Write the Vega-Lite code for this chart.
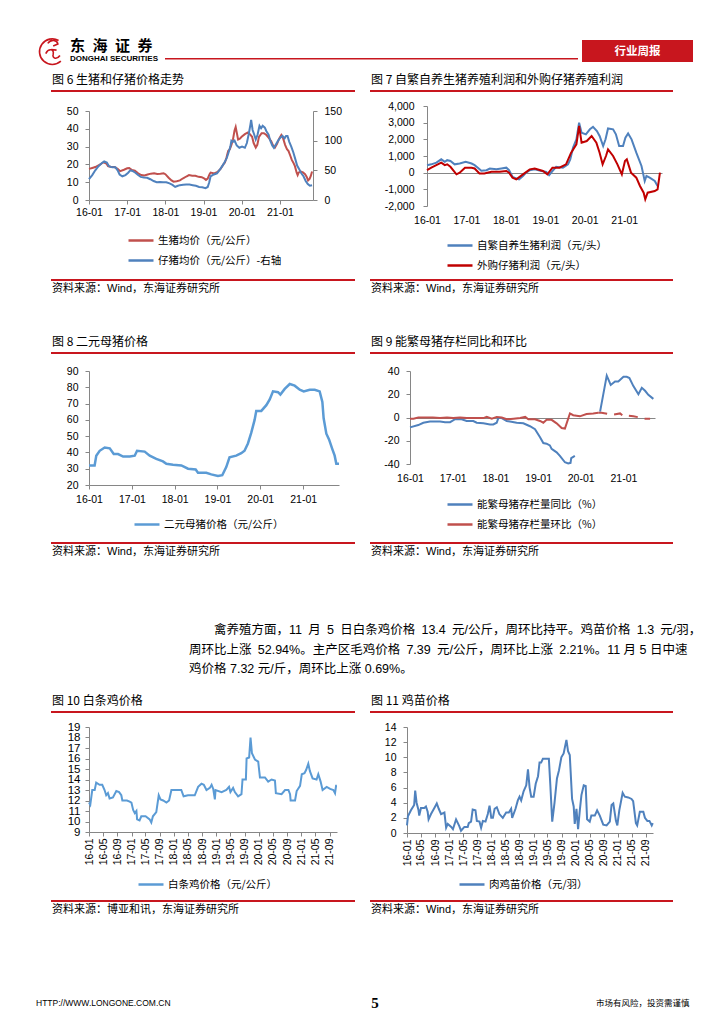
{
"$schema": "https://vega.github.io/schema/vega-lite/v6.json",
"background": "white",
"padding": 0,
"spacing": 0,
"bounds": "full",
"resolve": {"scale": {"color": "independent"}, "legend": {"color": "independent"}},
"datasets": {
"c6a": [{"d":"2016-01-01","v":17.5},{"d":"2016-02-01","v":18},{"d":"2016-03-01","v":18.5},{"d":"2016-04-01","v":19.5},{"d":"2016-05-01","v":20.5},{"d":"2016-05-20","v":21.2},{"d":"2016-06-15","v":20.5},{"d":"2016-07-01","v":19},{"d":"2016-08-01","v":18.5},{"d":"2016-09-01","v":18.5},{"d":"2016-10-01","v":17.5},{"d":"2016-10-25","v":16.2},{"d":"2016-12-01","v":17},{"d":"2017-01-01","v":17.8},{"d":"2017-01-20","v":18},{"d":"2017-02-15","v":16.8},{"d":"2017-03-15","v":16.5},{"d":"2017-04-15","v":15},{"d":"2017-05-15","v":14},{"d":"2017-06-15","v":13.8},{"d":"2017-07-15","v":14.3},{"d":"2017-08-15","v":14.8},{"d":"2017-09-15","v":15},{"d":"2017-10-15","v":14.6},{"d":"2017-11-15","v":14.7},{"d":"2017-12-15","v":15},{"d":"2018-01-01","v":14.5},{"d":"2018-02-01","v":12.5},{"d":"2018-03-01","v":11},{"d":"2018-03-20","v":10.3},{"d":"2018-04-20","v":10.5},{"d":"2018-05-20","v":11},{"d":"2018-06-20","v":12.2},{"d":"2018-07-20","v":13.2},{"d":"2018-08-15","v":14},{"d":"2018-09-15","v":13.6},{"d":"2018-10-15","v":13.6},{"d":"2018-11-15","v":13},{"d":"2018-12-15","v":12.8},{"d":"2019-01-10","v":12},{"d":"2019-01-25","v":11.3},{"d":"2019-02-10","v":12},{"d":"2019-02-28","v":14.5},{"d":"2019-03-10","v":15.4},{"d":"2019-04-15","v":14.9},{"d":"2019-05-15","v":15.8},{"d":"2019-06-15","v":17.6},{"d":"2019-07-10","v":20},{"d":"2019-07-25","v":21},{"d":"2019-08-10","v":24},{"d":"2019-08-25","v":27.5},{"d":"2019-09-10","v":28.5},{"d":"2019-09-25","v":31},{"d":"2019-10-10","v":34},{"d":"2019-10-25","v":39},{"d":"2019-11-05","v":41},{"d":"2019-11-15","v":38},{"d":"2019-11-28","v":34},{"d":"2019-12-15","v":34.5},{"d":"2020-01-01","v":35.5},{"d":"2020-02-01","v":37},{"d":"2020-03-01","v":38},{"d":"2020-03-20","v":37},{"d":"2020-04-10","v":35.5},{"d":"2020-04-25","v":32},{"d":"2020-05-15","v":29.5},{"d":"2020-05-30","v":31},{"d":"2020-06-15","v":35.5},{"d":"2020-07-10","v":37.5},{"d":"2020-08-01","v":37.5},{"d":"2020-08-25","v":36.5},{"d":"2020-09-15","v":35},{"d":"2020-10-10","v":33},{"d":"2020-10-25","v":31},{"d":"2020-11-15","v":29.5},{"d":"2020-12-05","v":31.5},{"d":"2020-12-25","v":34.5},{"d":"2021-01-15","v":36.5},{"d":"2021-01-30","v":35},{"d":"2021-02-20","v":31},{"d":"2021-03-10","v":28.5},{"d":"2021-03-25","v":27.5},{"d":"2021-04-10","v":25},{"d":"2021-04-25","v":22.5},{"d":"2021-05-10","v":21},{"d":"2021-05-25","v":19},{"d":"2021-06-10","v":15.5},{"d":"2021-06-20","v":14},{"d":"2021-07-01","v":15.5},{"d":"2021-07-20","v":16},{"d":"2021-08-10","v":15.5},{"d":"2021-08-30","v":14.5},{"d":"2021-09-15","v":13},{"d":"2021-09-28","v":11},{"d":"2021-10-12","v":11.8},{"d":"2021-10-24","v":13.5},{"d":"2021-11-05","v":16}],
"c6b": [{"d":"2016-01-01","v":35},{"d":"2016-02-01","v":42},{"d":"2016-03-01","v":50},{"d":"2016-04-01","v":57},{"d":"2016-05-01","v":62},{"d":"2016-05-25","v":65},{"d":"2016-06-20","v":63},{"d":"2016-07-10","v":57},{"d":"2016-08-10","v":55},{"d":"2016-09-10","v":55},{"d":"2016-10-01","v":50},{"d":"2016-10-20","v":43},{"d":"2016-11-15","v":40},{"d":"2016-12-15","v":42},{"d":"2017-01-10","v":46},{"d":"2017-01-30","v":50},{"d":"2017-02-20","v":49},{"d":"2017-03-20","v":46},{"d":"2017-04-15","v":42},{"d":"2017-05-10","v":39},{"d":"2017-06-10","v":38},{"d":"2017-07-10","v":37.5},{"d":"2017-08-10","v":35},{"d":"2017-09-10","v":32},{"d":"2017-10-10","v":30},{"d":"2017-11-10","v":30.5},{"d":"2017-12-10","v":30},{"d":"2018-01-10","v":30},{"d":"2018-02-10","v":28},{"d":"2018-03-10","v":25.5},{"d":"2018-04-05","v":22},{"d":"2018-04-25","v":23.5},{"d":"2018-05-20","v":25},{"d":"2018-06-20","v":25.5},{"d":"2018-07-20","v":26},{"d":"2018-08-20","v":26},{"d":"2018-09-20","v":25},{"d":"2018-10-20","v":24},{"d":"2018-11-20","v":22},{"d":"2018-12-20","v":21.5},{"d":"2019-01-20","v":20},{"d":"2019-02-10","v":22},{"d":"2019-02-25","v":30},{"d":"2019-03-10","v":40},{"d":"2019-04-10","v":43},{"d":"2019-05-10","v":45},{"d":"2019-06-10","v":52},{"d":"2019-07-10","v":60},{"d":"2019-08-10","v":70},{"d":"2019-08-25","v":78},{"d":"2019-09-15","v":90},{"d":"2019-09-25","v":100},{"d":"2019-10-10","v":98},{"d":"2019-10-25","v":100},{"d":"2019-11-15","v":92},{"d":"2019-12-10","v":88},{"d":"2020-01-05","v":90},{"d":"2020-02-01","v":88},{"d":"2020-02-20","v":96},{"d":"2020-03-10","v":112},{"d":"2020-03-25","v":127},{"d":"2020-04-01","v":135},{"d":"2020-04-15","v":118},{"d":"2020-05-01","v":110},{"d":"2020-05-15","v":102},{"d":"2020-06-01","v":110},{"d":"2020-06-20","v":125},{"d":"2020-07-05","v":121},{"d":"2020-07-20","v":125},{"d":"2020-08-10","v":122},{"d":"2020-08-25","v":116},{"d":"2020-09-15","v":110},{"d":"2020-10-01","v":100},{"d":"2020-10-20","v":92},{"d":"2020-11-05","v":88},{"d":"2020-11-25","v":94},{"d":"2020-12-15","v":100},{"d":"2021-01-05","v":105},{"d":"2021-01-25","v":108},{"d":"2021-02-15","v":104},{"d":"2021-03-01","v":108},{"d":"2021-03-15","v":108},{"d":"2021-04-01","v":98},{"d":"2021-04-20","v":90},{"d":"2021-05-10","v":80},{"d":"2021-05-30","v":68},{"d":"2021-06-15","v":58},{"d":"2021-07-05","v":52},{"d":"2021-07-25","v":45},{"d":"2021-08-15","v":40},{"d":"2021-09-05","v":32},{"d":"2021-09-25","v":27},{"d":"2021-10-15","v":24},{"d":"2021-11-05","v":25}],
"c7a": [{"d":"2016-01-01","v":450},{"d":"2016-02-10","v":500},{"d":"2016-03-28","v":600},{"d":"2016-05-12","v":800},{"d":"2016-06-14","v":650},{"d":"2016-07-06","v":750},{"d":"2016-08-05","v":700},{"d":"2016-09-13","v":500},{"d":"2016-10-30","v":550},{"d":"2016-12-24","v":650},{"d":"2017-02-17","v":550},{"d":"2017-03-17","v":450},{"d":"2017-04-16","v":300},{"d":"2017-05-18","v":120},{"d":"2017-07-05","v":150},{"d":"2017-08-05","v":250},{"d":"2017-10-05","v":200},{"d":"2017-11-20","v":250},{"d":"2018-01-05","v":300},{"d":"2018-01-30","v":150},{"d":"2018-03-03","v":-250},{"d":"2018-04-07","v":-350},{"d":"2018-05-03","v":-400},{"d":"2018-06-08","v":-200},{"d":"2018-07-08","v":0},{"d":"2018-08-10","v":150},{"d":"2018-09-25","v":200},{"d":"2018-11-25","v":100},{"d":"2019-01-10","v":50},{"d":"2019-02-05","v":-150},{"d":"2019-03-08","v":100},{"d":"2019-04-12","v":350},{"d":"2019-06-13","v":300},{"d":"2019-07-30","v":500},{"d":"2019-08-20","v":800},{"d":"2019-09-15","v":1500},{"d":"2019-10-16","v":2000},{"d":"2019-11-10","v":3000},{"d":"2019-12-03","v":2400},{"d":"2020-01-12","v":2300},{"d":"2020-02-18","v":2600},{"d":"2020-03-18","v":2750},{"d":"2020-04-23","v":2500},{"d":"2020-05-18","v":2200},{"d":"2020-06-20","v":1600},{"d":"2020-07-12","v":2000},{"d":"2020-08-04","v":2650},{"d":"2020-09-20","v":2600},{"d":"2020-10-16","v":2300},{"d":"2020-11-15","v":1600},{"d":"2020-12-21","v":1600},{"d":"2021-01-12","v":2100},{"d":"2021-02-06","v":2350},{"d":"2021-03-10","v":2000},{"d":"2021-04-23","v":1200},{"d":"2021-06-10","v":400},{"d":"2021-07-10","v":-500},{"d":"2021-07-26","v":-200},{"d":"2021-08-25","v":-300},{"d":"2021-10-11","v":-500},{"d":"2021-11-06","v":-800}],
"c7b": [{"d":"2016-01-01","v":150},{"d":"2016-02-10","v":300},{"d":"2016-05-12","v":600},{"d":"2016-06-14","v":450},{"d":"2016-07-06","v":500},{"d":"2016-08-05","v":350},{"d":"2016-09-30","v":-100},{"d":"2016-10-30","v":0},{"d":"2016-12-18","v":300},{"d":"2017-02-17","v":300},{"d":"2017-03-17","v":250},{"d":"2017-05-01","v":-50},{"d":"2017-06-15","v":-50},{"d":"2017-08-20","v":50},{"d":"2017-11-05","v":50},{"d":"2018-01-05","v":100},{"d":"2018-01-30","v":0},{"d":"2018-03-03","v":-300},{"d":"2018-04-07","v":-400},{"d":"2018-06-08","v":-100},{"d":"2018-08-10","v":200},{"d":"2018-09-25","v":250},{"d":"2018-12-10","v":100},{"d":"2019-01-20","v":-100},{"d":"2019-03-08","v":300},{"d":"2019-05-12","v":300},{"d":"2019-07-12","v":500},{"d":"2019-08-28","v":1200},{"d":"2019-10-16","v":1700},{"d":"2019-11-10","v":2800},{"d":"2019-12-03","v":1800},{"d":"2020-01-20","v":1900},{"d":"2020-03-05","v":2200},{"d":"2020-04-18","v":1800},{"d":"2020-05-18","v":1200},{"d":"2020-06-15","v":500},{"d":"2020-07-16","v":1000},{"d":"2020-08-04","v":1400},{"d":"2020-09-20","v":1000},{"d":"2020-10-30","v":500},{"d":"2020-12-10","v":-100},{"d":"2021-01-08","v":700},{"d":"2021-01-25","v":800},{"d":"2021-03-05","v":0},{"d":"2021-04-23","v":-300},{"d":"2021-05-27","v":-800},{"d":"2021-06-30","v":-1200},{"d":"2021-07-15","v":-1600},{"d":"2021-08-06","v":-1200},{"d":"2021-10-11","v":-1100},{"d":"2021-11-06","v":-1000},{"d":"2021-11-28","v":0}],
"c8": [{"d":"2016-01-01","v":32},{"d":"2016-02-18","v":32},{"d":"2016-03-03","v":38},{"d":"2016-04-01","v":41},{"d":"2016-05-14","v":43},{"d":"2016-06-26","v":42.5},{"d":"2016-07-30","v":39},{"d":"2016-09-05","v":39},{"d":"2016-10-18","v":37.5},{"d":"2016-12-14","v":37.5},{"d":"2017-01-25","v":38},{"d":"2017-02-14","v":41},{"d":"2017-04-20","v":40.5},{"d":"2017-06-02","v":38},{"d":"2017-07-28","v":36},{"d":"2017-09-23","v":34.5},{"d":"2017-10-22","v":33},{"d":"2017-12-18","v":32.5},{"d":"2018-02-27","v":32},{"d":"2018-04-25","v":30},{"d":"2018-06-29","v":29.5},{"d":"2018-07-19","v":27.5},{"d":"2018-09-28","v":27.5},{"d":"2018-11-09","v":26.5},{"d":"2019-01-05","v":25.5},{"d":"2019-02-11","v":26},{"d":"2019-03-17","v":31},{"d":"2019-04-14","v":37},{"d":"2019-06-10","v":38},{"d":"2019-07-23","v":39.5},{"d":"2019-08-20","v":41},{"d":"2019-09-18","v":45.5},{"d":"2019-10-16","v":52},{"d":"2019-11-14","v":60},{"d":"2019-11-28","v":65.5},{"d":"2020-01-10","v":65.5},{"d":"2020-02-22","v":69},{"d":"2020-03-22","v":72.5},{"d":"2020-04-19","v":77.5},{"d":"2020-06-01","v":77},{"d":"2020-06-21","v":75.5},{"d":"2020-07-28","v":79},{"d":"2020-09-09","v":82},{"d":"2020-10-21","v":81},{"d":"2020-12-03","v":78.5},{"d":"2021-01-06","v":77.5},{"d":"2021-02-26","v":78.5},{"d":"2021-04-10","v":78.5},{"d":"2021-05-22","v":77.5},{"d":"2021-06-14","v":71},{"d":"2021-06-25","v":61},{"d":"2021-07-18","v":51.5},{"d":"2021-08-10","v":48},{"d":"2021-09-07","v":42},{"d":"2021-09-27","v":38},{"d":"2021-10-11","v":33},{"d":"2021-11-03","v":33}],
"c9a": [{"d":"2016-01-01","v":-8.5,"g":1},{"d":"2016-03-12","v":-6.5,"g":1},{"d":"2016-04-24","v":-4.5,"g":1},{"d":"2016-06-20","v":-3.5,"g":1},{"d":"2016-09-14","v":-3.5,"g":1},{"d":"2016-10-27","v":-4,"g":1},{"d":"2016-12-09","v":-4,"g":1},{"d":"2017-01-21","v":-1.5,"g":1},{"d":"2017-03-18","v":-1.5,"g":1},{"d":"2017-04-30","v":-3,"g":1},{"d":"2017-06-26","v":-3,"g":1},{"d":"2017-07-25","v":-4.5,"g":1},{"d":"2017-09-20","v":-5,"g":1},{"d":"2017-11-16","v":-6,"g":1},{"d":"2017-12-14","v":-6,"g":1},{"d":"2018-01-12","v":-4.5,"g":1},{"d":"2018-01-26","v":-0.5,"g":1},{"d":"2018-02-24","v":-0.5,"g":1},{"d":"2018-04-08","v":-3,"g":1},{"d":"2018-05-06","v":-3.5,"g":1},{"d":"2018-07-02","v":-4.5,"g":1},{"d":"2018-08-28","v":-5,"g":1},{"d":"2018-10-24","v":-7.5,"g":1},{"d":"2018-12-06","v":-10,"g":1},{"d":"2019-01-18","v":-17,"g":1},{"d":"2019-02-15","v":-22,"g":1},{"d":"2019-03-15","v":-22.5,"g":1},{"d":"2019-04-12","v":-24,"g":1},{"d":"2019-04-27","v":-27,"g":1},{"d":"2019-06-09","v":-30,"g":1},{"d":"2019-07-07","v":-33,"g":1},{"d":"2019-08-19","v":-38.5,"g":1},{"d":"2019-09-16","v":-39.5,"g":1},{"d":"2019-10-06","v":-39,"g":1},{"d":"2019-10-12","v":-35,"g":1},{"d":"2019-11-12","v":-33,"g":1},{"d":"2020-06-15","v":5,"g":2},{"d":"2020-08-11","v":36,"g":2},{"d":"2020-09-14","v":28,"g":2},{"d":"2020-10-21","v":31,"g":2},{"d":"2020-11-18","v":31,"g":2},{"d":"2021-01-01","v":35,"g":2},{"d":"2021-01-29","v":35,"g":2},{"d":"2021-02-21","v":34,"g":2},{"d":"2021-03-27","v":27,"g":2},{"d":"2021-05-09","v":20,"g":2},{"d":"2021-06-07","v":25.5,"g":2},{"d":"2021-07-05","v":23,"g":2},{"d":"2021-08-02","v":19.5,"g":2},{"d":"2021-09-14","v":16,"g":2}],
"c9b": [{"d":"2016-01-01","v":-1,"g":1},{"d":"2016-01-30","v":-1,"g":1},{"d":"2016-03-12","v":0,"g":1},{"d":"2016-07-15","v":0,"g":1},{"d":"2016-09-14","v":-0.5,"g":1},{"d":"2016-11-13","v":0,"g":1},{"d":"2017-01-05","v":-0.5,"g":1},{"d":"2017-03-04","v":0,"g":1},{"d":"2017-04-30","v":-0.5,"g":1},{"d":"2017-07-25","v":-0.5,"g":1},{"d":"2017-09-20","v":-0.5,"g":1},{"d":"2017-10-19","v":0.5,"g":1},{"d":"2017-12-01","v":-1,"g":1},{"d":"2018-01-12","v":0.5,"g":1},{"d":"2018-02-24","v":0,"g":1},{"d":"2018-04-08","v":-1.5,"g":1},{"d":"2018-06-05","v":-1,"g":1},{"d":"2018-08-01","v":-0.5,"g":1},{"d":"2018-09-13","v":0.5,"g":1},{"d":"2018-10-10","v":-1.5,"g":1},{"d":"2018-12-06","v":-1.5,"g":1},{"d":"2019-01-18","v":-3,"g":1},{"d":"2019-02-15","v":-4.5,"g":1},{"d":"2019-03-15","v":-2,"g":1},{"d":"2019-04-27","v":-2,"g":1},{"d":"2019-06-09","v":-5,"g":1},{"d":"2019-07-22","v":-9,"g":1},{"d":"2019-08-19","v":-9.5,"g":1},{"d":"2019-10-01","v":3.5,"g":1},{"d":"2019-10-29","v":2,"g":1},{"d":"2019-12-25","v":1,"g":1},{"d":"2020-02-20","v":3,"g":1},{"d":"2020-04-17","v":3.5,"g":1},{"d":"2020-05-30","v":4,"g":1},{"d":"2020-05-30","v":4,"g":2},{"d":"2020-06-27","v":4,"g":2},{"d":"2020-08-23","v":3,"g":2},{"d":"2020-10-06","v":2.5,"g":2},{"d":"2020-12-03","v":3.5,"g":2},{"d":"2021-01-01","v":1,"g":2},{"d":"2021-02-12","v":1.5,"g":2},{"d":"2021-03-27","v":1,"g":2},{"d":"2021-05-22","v":0,"g":2},{"d":"2021-07-05","v":-1,"g":2},{"d":"2021-08-17","v":-1,"g":2}],
"c10": [{"d":"2016-01-01","v":11.8},{"d":"2016-01-12","v":11.6},{"d":"2016-01-29","v":13},{"d":"2016-02-19","v":13},{"d":"2016-03-03","v":13.7},{"d":"2016-04-01","v":13.5},{"d":"2016-04-24","v":13.5},{"d":"2016-05-14","v":13},{"d":"2016-05-28","v":12.5},{"d":"2016-06-12","v":12.7},{"d":"2016-06-26","v":12.2},{"d":"2016-07-25","v":12.3},{"d":"2016-08-23","v":12.9},{"d":"2016-09-16","v":12.8},{"d":"2016-10-05","v":12.5},{"d":"2016-10-14","v":12},{"d":"2016-11-23","v":12},{"d":"2016-12-16","v":11.9},{"d":"2016-12-31","v":11.8},{"d":"2017-01-15","v":11.1},{"d":"2017-01-29","v":10.8},{"d":"2017-02-12","v":11},{"d":"2017-02-18","v":10.2},{"d":"2017-03-11","v":10.1},{"d":"2017-03-26","v":10.5},{"d":"2017-05-02","v":10.5},{"d":"2017-06-06","v":10.2},{"d":"2017-06-20","v":9.9},{"d":"2017-07-04","v":10.5},{"d":"2017-08-02","v":10.9},{"d":"2017-08-23","v":12.5},{"d":"2017-09-07","v":12.1},{"d":"2017-09-30","v":12},{"d":"2017-10-28","v":11.8},{"d":"2017-11-20","v":12},{"d":"2017-12-10","v":13},{"d":"2018-03-05","v":13},{"d":"2018-03-25","v":12.4},{"d":"2018-05-02","v":12.5},{"d":"2018-06-29","v":12.5},{"d":"2018-07-28","v":13.3},{"d":"2018-08-26","v":13.6},{"d":"2018-09-15","v":13.5},{"d":"2018-10-08","v":13},{"d":"2018-11-06","v":13.2},{"d":"2018-11-21","v":13.5},{"d":"2018-12-05","v":13.1},{"d":"2018-12-19","v":12.1},{"d":"2018-12-25","v":13},{"d":"2019-02-15","v":12.8},{"d":"2019-03-28","v":13},{"d":"2019-04-20","v":13.3},{"d":"2019-05-02","v":12.8},{"d":"2019-05-25","v":13.2},{"d":"2019-06-09","v":12.8},{"d":"2019-07-07","v":12.4},{"d":"2019-08-05","v":12.6},{"d":"2019-08-14","v":14},{"d":"2019-09-12","v":14},{"d":"2019-09-18","v":16},{"d":"2019-10-10","v":16.1},{"d":"2019-10-22","v":18},{"d":"2019-11-03","v":16.5},{"d":"2019-11-29","v":15.9},{"d":"2019-12-27","v":15.7},{"d":"2020-01-11","v":14.2},{"d":"2020-02-23","v":14.2},{"d":"2020-03-22","v":13.8},{"d":"2020-04-20","v":14},{"d":"2020-05-19","v":13.9},{"d":"2020-05-27","v":12.7},{"d":"2020-07-15","v":12.6},{"d":"2020-08-14","v":13},{"d":"2020-09-12","v":13},{"d":"2020-09-26","v":12.6},{"d":"2020-10-01","v":12},{"d":"2020-11-08","v":12},{"d":"2020-11-22","v":12.9},{"d":"2020-12-21","v":13.4},{"d":"2021-01-05","v":14.5},{"d":"2021-01-28","v":14.6},{"d":"2021-02-11","v":14.9},{"d":"2021-03-02","v":15.5},{"d":"2021-03-16","v":14.8},{"d":"2021-04-08","v":14.1},{"d":"2021-05-12","v":14},{"d":"2021-05-27","v":14.5},{"d":"2021-06-16","v":13.8},{"d":"2021-07-03","v":13},{"d":"2021-08-07","v":13.3},{"d":"2021-09-06","v":13.1},{"d":"2021-10-04","v":13},{"d":"2021-10-18","v":12.7},{"d":"2021-10-27","v":13.4},{"d":"2021-11-03","v":13.4}],
"c11": [{"d":"2016-01-01","v":1},{"d":"2016-01-09","v":2.2},{"d":"2016-02-04","v":3},{"d":"2016-03-03","v":3.7},{"d":"2016-03-12","v":5.6},{"d":"2016-03-24","v":4},{"d":"2016-04-10","v":3},{"d":"2016-04-16","v":2.3},{"d":"2016-05-01","v":3.3},{"d":"2016-05-30","v":3.3},{"d":"2016-06-13","v":3.5},{"d":"2016-06-28","v":2.8},{"d":"2016-07-06","v":1.8},{"d":"2016-07-27","v":2.5},{"d":"2016-08-25","v":3.3},{"d":"2016-09-15","v":3.9},{"d":"2016-10-02","v":3.2},{"d":"2016-10-22","v":2.5},{"d":"2016-11-20","v":2.7},{"d":"2016-12-05","v":0.7},{"d":"2016-12-19","v":1.2},{"d":"2017-01-18","v":0.8},{"d":"2017-02-02","v":0.5},{"d":"2017-03-01","v":1.8},{"d":"2017-03-29","v":0.9},{"d":"2017-04-13","v":0.3},{"d":"2017-05-12","v":0.8},{"d":"2017-06-10","v":0.8},{"d":"2017-06-19","v":1.3},{"d":"2017-07-09","v":1.5},{"d":"2017-07-23","v":3.1},{"d":"2017-08-16","v":3},{"d":"2017-08-28","v":1.6},{"d":"2017-09-20","v":1.5},{"d":"2017-10-04","v":0.7},{"d":"2017-10-19","v":1.6},{"d":"2017-11-11","v":1.5},{"d":"2017-12-01","v":2.5},{"d":"2017-12-16","v":3.6},{"d":"2017-12-31","v":2},{"d":"2018-01-14","v":2},{"d":"2018-01-29","v":3.2},{"d":"2018-02-17","v":3.4},{"d":"2018-03-11","v":2.5},{"d":"2018-04-10","v":2},{"d":"2018-05-09","v":2.7},{"d":"2018-06-01","v":2.7},{"d":"2018-06-21","v":3.2},{"d":"2018-06-30","v":2},{"d":"2018-07-29","v":3.2},{"d":"2018-08-18","v":4.3},{"d":"2018-09-02","v":4.8},{"d":"2018-09-16","v":4.3},{"d":"2018-10-07","v":5.5},{"d":"2018-10-30","v":6.3},{"d":"2018-11-14","v":8.4},{"d":"2018-11-28","v":6},{"d":"2018-12-12","v":4.8},{"d":"2019-01-02","v":4.8},{"d":"2019-01-20","v":6.5},{"d":"2019-02-09","v":7.5},{"d":"2019-02-22","v":9.3},{"d":"2019-03-08","v":9.3},{"d":"2019-03-23","v":9.8},{"d":"2019-04-21","v":9.8},{"d":"2019-05-14","v":9.8},{"d":"2019-05-26","v":6.5},{"d":"2019-06-12","v":1.5},{"d":"2019-07-02","v":4},{"d":"2019-07-23","v":7.2},{"d":"2019-08-10","v":8.3},{"d":"2019-08-30","v":10},{"d":"2019-09-19","v":10.5},{"d":"2019-10-13","v":12.3},{"d":"2019-10-27","v":10.8},{"d":"2019-11-11","v":10.3},{"d":"2019-12-01","v":4.5},{"d":"2019-12-15","v":3.5},{"d":"2019-12-24","v":1.2},{"d":"2020-01-08","v":3.2},{"d":"2020-01-22","v":0.5},{"d":"2020-02-06","v":3},{"d":"2020-02-20","v":5},{"d":"2020-03-11","v":6.3},{"d":"2020-03-28","v":6.2},{"d":"2020-04-09","v":1.8},{"d":"2020-05-02","v":1.5},{"d":"2020-05-16","v":2.3},{"d":"2020-06-15","v":2.3},{"d":"2020-07-05","v":3},{"d":"2020-07-28","v":2.3},{"d":"2020-08-27","v":1.1},{"d":"2020-09-25","v":1},{"d":"2020-10-23","v":1.5},{"d":"2020-11-07","v":3.7},{"d":"2020-11-22","v":3.9},{"d":"2020-12-15","v":1.6},{"d":"2020-12-27","v":1},{"d":"2021-01-13","v":3},{"d":"2021-02-11","v":5.3},{"d":"2021-03-02","v":4.8},{"d":"2021-03-31","v":4.7},{"d":"2021-04-29","v":4.5},{"d":"2021-05-13","v":4.2},{"d":"2021-06-06","v":1.3},{"d":"2021-06-17","v":1},{"d":"2021-07-10","v":2.8},{"d":"2021-08-09","v":2.8},{"d":"2021-08-23","v":2},{"d":"2021-09-13","v":1.6},{"d":"2021-10-01","v":1.6},{"d":"2021-10-21","v":1},{"d":"2021-10-30","v":1.3}]
},
"vconcat": [
{"columns": 6, "spacing": 0, "bounds": "flush", "align": "each", "resolve": {"scale": {"color": "independent"}, "legend": {"color": "independent"}},
 "concat": [
  {"width":42,"height":40,"data":{"values":[]},"mark":"point"},
  {"width":21,"height":1,"data":{"values":[]},"mark":"point"},
  {"width":102,"height":1,"data":{"values":[]},"mark":"point"},
  {"width":413,"height":1,"data":{"values":[]},"mark":"point"},
  {"width":4,"height":1,"data":{"values":[]},"mark":"point"},
  {"width":111,"height":1,"data":{"values":[]},"mark":"point"},

  {"width":1,"height":5,"data":{"values":[]},"mark":"point"},
  {"width":1,"height":1,"data":{"values":[]},"mark":"point"},
  {"width":1,"height":1,"data":{"values":[]},"mark":"point"},
  {"width":1,"height":1,"data":{"values":[]},"mark":"point"},
  {"width":1,"height":1,"data":{"values":[]},"mark":"point"},
  {"width":111,"height":5,"data":{"values":[]},"mark":"point","view":{"fill":"#c8161e"}},

  {"width":1,"height":13,"data":{"values":[]},"mark":"point"},
  {"width":21,"height":13,"data":{"values":[{}]},"mark":{"type":"point","shape":"M0.45,-0.82 A0.95,0.95 0 1 0 0.62,0.72 M-0.35,-0.6 C-0.1,-0.95 0.35,-0.85 0.4,-0.55 L0.05,-0.4 M-0.5,0.15 C-0.3,-0.25 0.15,-0.2 0.05,0.2 C-0.05,0.55 0.35,0.6 0.55,0.3 M-0.1,-0.15 L0.3,-0.1","size":729,"filled":false,"stroke":"#c8161e","strokeWidth":1.6,"opacity":1}},
  {"width":1,"height":1,"data":{"values":[]},"mark":"point"},
  {"width":1,"height":1,"data":{"values":[]},"mark":"point"},
  {"width":1,"height":1,"data":{"values":[]},"mark":"point"},
  {"width":111,"height":13,"data":{"values":[{}]},"mark":{"type":"text","text":"行业周报","color":"#ffffff","fontSize":11.5,"fontWeight":"bold","font":"Noto Sans CJK SC"},"view":{"fill":"#c8161e"}},

  {"width":1,"height":2,"data":{"values":[]},"mark":"point"},
  {"width":1,"height":1,"data":{"values":[]},"mark":"point"},
  {"width":1,"height":1,"data":{"values":[]},"mark":"point"},
  {"width":413,"height":1.5,"data":{"values":[]},"mark":"point","view":{"fill":"#c8161e"},"title":{"text":"东\u2002海\u2002证\u2002券","subtitle":"DONGHAI SECURITIES","orient":"top","offset":-4.5,"dx":-95,"fontSize":15,"fontWeight":"bold","subtitleFont":"Liberation Sans","subtitleFontSize":8,"subtitleFontWeight":"bold","subtitleColor":"#000000","subtitlePadding":1}},
  {"width":1,"height":1,"data":{"values":[]},"mark":"point"},
  {"width":111,"height":2,"data":{"values":[]},"mark":"point","view":{"fill":"#c8161e"}},

  {"width":1,"height":2,"data":{"values":[]},"mark":"point"},
  {"width":1,"height":1,"data":{"values":[]},"mark":"point"},
  {"width":1,"height":1,"data":{"values":[]},"mark":"point"},
  {"width":1,"height":1,"data":{"values":[]},"mark":"point"},
  {"width":1,"height":1,"data":{"values":[]},"mark":"point"},
  {"width":111,"height":2,"data":{"values":[]},"mark":"point","view":{"fill":"#c8161e"}},

  {"width":1,"height":8,"data":{"values":[]},"mark":"point"},
  {"width":1,"height":1,"data":{"values":[]},"mark":"point"},
  {"width":1,"height":1,"data":{"values":[]},"mark":"point"},
  {"width":1,"height":1,"data":{"values":[]},"mark":"point"},
  {"width":1,"height":1,"data":{"values":[]},"mark":"point"},
  {"width":1,"height":1,"data":{"values":[]},"mark":"point"}
 ]},

{"columns": 6, "spacing": 0, "bounds": "flush", "align": "each", "resolve": {"scale": {"color": "independent"}, "legend": {"color": "independent"}},
 "concat": [
  {"width":51,"height":20,"data":{"values":[]},"mark":"point"},
  {"width":38,"height":1,"data":{"values":[]},"mark":"point"},
  {"width":266,"height":1,"data":{"values":[]},"mark":"point"},
  {"width":15,"height":1,"data":{"values":[]},"mark":"point"},
  {"width":57,"height":1,"data":{"values":[]},"mark":"point"},
  {"width":246,"height":1,"data":{"values":[]},"mark":"point"},

  {"width":1,"height":2,"data":{"values":[]},"mark":"point"},
  {"width":38,"height":2,"data":{"values":[]},"mark":"point","view":{"fill":"#c8161e"},"title":{"text":"图 6 生猪和仔猪价格走势","orient":"top","offset":3,"dx":1}},
  {"width":266,"height":2,"data":{"values":[]},"mark":"point","view":{"fill":"#c8161e"}},
  {"width":1,"height":1,"data":{"values":[]},"mark":"point"},
  {"width":57,"height":2,"data":{"values":[]},"mark":"point","view":{"fill":"#c8161e"},"title":{"text":"图 7 自繁自养生猪养殖利润和外购仔猪养殖利润","orient":"top","offset":3,"dx":1}},
  {"width":246,"height":2,"data":{"values":[]},"mark":"point","view":{"fill":"#c8161e"}},

  {"width":1,"height":14,"data":{"values":[]},"mark":"point"},
  {"width":1,"height":1,"data":{"values":[]},"mark":"point"},
  {"width":1,"height":1,"data":{"values":[]},"mark":"point"},
  {"width":1,"height":1,"data":{"values":[]},"mark":"point"},
  {"width":1,"height":1,"data":{"values":[]},"mark":"point"},
  {"width":1,"height":1,"data":{"values":[]},"mark":"point"},

  {"width":1,"height":100,"data":{"values":[]},"mark":"point"},
  {"width":1,"height":1,"data":{"values":[]},"mark":"point"},
  {"width":224,"height":94,
   "layer":[
    {"data":{"name":"c6a"},"mark":{"type":"line","strokeWidth":2},"encoding":{
     "x":{"field":"d","type":"temporal","scale":{"domain":[{"year":2016,"month":1,"date":1},{"year":2021,"month":11,"date":14}]},"axis":{"title":null,"format":"%y-%m","labelPadding":3,"values":[{"year":2016,"month":1,"date":1},{"year":2017,"month":1,"date":1},{"year":2018,"month":1,"date":1},{"year":2019,"month":1,"date":1},{"year":2020,"month":1,"date":1},{"year":2021,"month":1,"date":1}]}},
     "y":{"field":"v","type":"quantitative","scale":{"domain":[0,50],"range":[94,5]},"axis":{"title":null,"values":[0,10,20,30,40,50]}},
     "color":{"datum":"生猪均价（元/公斤）","scale":{"domain":["生猪均价（元/公斤）","仔猪均价（元/公斤）-右轴"],"range":["#C0504D","#4F81BD"]},"legend":{"title":null,"legendX":38,"legendY":120.5,"direction":"vertical","rowPadding":-6}}}},
    {"data":{"name":"c6b"},"mark":{"type":"line","strokeWidth":2},"encoding":{
     "x":{"field":"d","type":"temporal"},
     "y":{"field":"v","type":"quantitative","scale":{"domain":[0,150],"range":[94,5]},"axis":{"title":null,"orient":"right","values":[0,50,100,150]}},
     "color":{"datum":"仔猪均价（元/公斤）-右轴"}}}
   ],
   "resolve":{"scale":{"y":"independent"}}},
  {"width":1,"height":1,"data":{"values":[]},"mark":"point"},
  {"width":1,"height":1,"data":{"values":[]},"mark":"point"},
  {"width":235,"height":100,
   "layer":[
    {"data":{"name":"c7a"},"mark":{"type":"line","strokeWidth":2},"encoding":{
     "x":{"field":"d","type":"temporal","scale":{"domain":[{"year":2016,"month":1,"date":1},{"year":2021,"month":12,"date":17}]},"axis":{"title":null,"format":"%y-%m","domain":false,"ticks":false,"labelPadding":9,"values":[{"year":2016,"month":1,"date":1},{"year":2017,"month":1,"date":1},{"year":2018,"month":1,"date":1},{"year":2019,"month":1,"date":1},{"year":2020,"month":1,"date":1},{"year":2021,"month":1,"date":1}]}},
     "y":{"field":"v","type":"quantitative","scale":{"domain":[-2000,4000]},"axis":{"title":null,"values":[-2000,-1000,0,1000,2000,3000,4000],"labelExpr":"replace(format(datum.value, ','), '\u2212', '-')","labelPadding":9,"labelOverlap":false,"ticks":true,"grid":true,"gridColor":"#868686","gridOpacity":{"condition":{"test":"datum.value === 0","value":1},"value":0}}},
     "color":{"datum":"自繁自养生猪利润（元/头）","scale":{"domain":["自繁自养生猪利润（元/头）","外购仔猪利润（元/头）"],"range":["#4F81BD","#C00000"]},"legend":{"title":null,"legendX":19,"legendY":125.5,"direction":"vertical","rowPadding":-4}}}},
    {"data":{"name":"c7b"},"mark":{"type":"line","strokeWidth":2},"encoding":{
     "x":{"field":"d","type":"temporal"},
     "y":{"field":"v","type":"quantitative","axis":{"title":null,"values":[-2000,-1000,0,1000,2000,3000,4000],"labelExpr":"replace(format(datum.value, ','), '\u2212', '-')","labelPadding":9,"labelOverlap":false,"ticks":true,"grid":true,"gridColor":"#868686","gridOpacity":{"condition":{"test":"datum.value === 0","value":1},"value":0}}},
     "color":{"datum":"外购仔猪利润（元/头）"}}}
   ]},

  {"width":1,"height":73,"data":{"values":[]},"mark":"point"},
  {"width":1,"height":1,"data":{"values":[]},"mark":"point"},
  {"width":1,"height":1,"data":{"values":[]},"mark":"point"},
  {"width":1,"height":1,"data":{"values":[]},"mark":"point"},
  {"width":1,"height":1,"data":{"values":[]},"mark":"point"},
  {"width":1,"height":1,"data":{"values":[]},"mark":"point"},

  {"width":1,"height":2,"data":{"values":[]},"mark":"point"},
  {"width":38,"height":2,"data":{"values":[]},"mark":"point","view":{"fill":"#c8161e"},"title":{"text":"资料来源：Wind，东海证券研究所","orient":"bottom","offset":2,"dx":1,"fontSize":11,"font":"Liberation Sans, Noto Sans CJK SC"}},
  {"width":266,"height":2,"data":{"values":[]},"mark":"point","view":{"fill":"#c8161e"}},
  {"width":1,"height":1,"data":{"values":[]},"mark":"point"},
  {"width":57,"height":2,"data":{"values":[]},"mark":"point","view":{"fill":"#c8161e"},"title":{"text":"资料来源：Wind，东海证券研究所","orient":"bottom","offset":2,"dx":1,"fontSize":11,"font":"Liberation Sans, Noto Sans CJK SC"}},
  {"width":246,"height":2,"data":{"values":[]},"mark":"point","view":{"fill":"#c8161e"}},

  {"width":1,"height":19,"data":{"values":[]},"mark":"point"},
  {"width":1,"height":1,"data":{"values":[]},"mark":"point"},
  {"width":1,"height":1,"data":{"values":[]},"mark":"point"},
  {"width":1,"height":1,"data":{"values":[]},"mark":"point"},
  {"width":1,"height":1,"data":{"values":[]},"mark":"point"},
  {"width":1,"height":1,"data":{"values":[]},"mark":"point"}
 ]},

{"columns": 6, "spacing": 0, "bounds": "flush", "align": "each", "resolve": {"scale": {"color": "independent"}, "legend": {"color": "independent"}},
 "concat": [
  {"width":51,"height":52,"data":{"values":[]},"mark":"point"},
  {"width":38,"height":1,"data":{"values":[]},"mark":"point"},
  {"width":266,"height":1,"data":{"values":[]},"mark":"point"},
  {"width":15,"height":1,"data":{"values":[]},"mark":"point"},
  {"width":40,"height":1,"data":{"values":[]},"mark":"point"},
  {"width":263,"height":1,"data":{"values":[]},"mark":"point"},

  {"width":1,"height":2,"data":{"values":[]},"mark":"point"},
  {"width":38,"height":2,"data":{"values":[]},"mark":"point","view":{"fill":"#c8161e"},"title":{"text":"图 8 二元母猪价格","orient":"top","offset":3,"dx":1}},
  {"width":266,"height":2,"data":{"values":[]},"mark":"point","view":{"fill":"#c8161e"}},
  {"width":1,"height":1,"data":{"values":[]},"mark":"point"},
  {"width":40,"height":2,"data":{"values":[]},"mark":"point","view":{"fill":"#c8161e"},"title":{"text":"图 9 能繁母猪存栏同比和环比","orient":"top","offset":3,"dx":1}},
  {"width":263,"height":2,"data":{"values":[]},"mark":"point","view":{"fill":"#c8161e"}},

  {"width":1,"height":17,"data":{"values":[]},"mark":"point"},
  {"width":1,"height":1,"data":{"values":[]},"mark":"point"},
  {"width":1,"height":1,"data":{"values":[]},"mark":"point"},
  {"width":1,"height":1,"data":{"values":[]},"mark":"point"},
  {"width":1,"height":1,"data":{"values":[]},"mark":"point"},
  {"width":1,"height":1,"data":{"values":[]},"mark":"point"},

  {"width":1,"height":114,"data":{"values":[]},"mark":"point"},
  {"width":1,"height":1,"data":{"values":[]},"mark":"point"},
  {"width":250,"height":114,"data":{"name":"c8"},"mark":{"type":"line","strokeWidth":2.5},"encoding":{
    "x":{"field":"d","type":"temporal","scale":{"domain":[{"year":2016,"month":1,"date":1},{"year":2021,"month":11,"date":3}]},"axis":{"title":null,"format":"%y-%m","labelPadding":5,"values":[{"year":2016,"month":1,"date":1},{"year":2017,"month":1,"date":1},{"year":2018,"month":1,"date":1},{"year":2019,"month":1,"date":1},{"year":2020,"month":1,"date":1},{"year":2021,"month":1,"date":1}]}},
    "y":{"field":"v","type":"quantitative","scale":{"domain":[20,90]},"axis":{"title":null,"values":[20,30,40,50,60,70,80,90]}},
    "color":{"datum":"二元母猪价格（元/公斤）","scale":{"range":["#5B9BD5"]},"legend":{"title":null,"legendX":44,"legendY":139.5,"direction":"vertical"}}}},
  {"width":1,"height":1,"data":{"values":[]},"mark":"point"},
  {"width":1,"height":1,"data":{"values":[]},"mark":"point"},
  {"width":245,"height":93,
   "layer":[
    {"data":{"name":"c9a"},"mark":{"type":"line","strokeWidth":2},"encoding":{
     "x":{"field":"d","type":"temporal","scale":{"domain":[{"year":2016,"month":1,"date":1},{"year":2021,"month":9,"date":28}]},"axis":{"title":null,"format":"%y-%m","domain":false,"ticks":false,"labelPadding":9,"values":[{"year":2016,"month":1,"date":1},{"year":2017,"month":1,"date":1},{"year":2018,"month":1,"date":1},{"year":2019,"month":1,"date":1},{"year":2020,"month":1,"date":1},{"year":2021,"month":1,"date":1}]}},
     "y":{"field":"v","type":"quantitative","scale":{"domain":[-40,40]},"axis":{"title":null,"values":[-40,-20,0,20,40],"labelExpr":"replace(format(datum.value, ','), '\u2212', '-')","labelOverlap":false,"ticks":true,"grid":true,"gridColor":"#868686","gridOpacity":{"condition":{"test":"datum.value === 0","value":1},"value":0}}},
     "detail":{"field":"g","type":"nominal"},
     "color":{"datum":"能繁母猪存栏量同比（%）","scale":{"domain":["能繁母猪存栏量同比（%）","能繁母猪存栏量环比（%）"],"range":["#4F81BD","#C0504D"]},"legend":{"title":null,"legendX":36,"legendY":119.5,"direction":"vertical","rowPadding":-5}}}},
    {"data":{"name":"c9b"},"transform":[{"filter":"datum.g == 1"}],"mark":{"type":"line","strokeWidth":2},"encoding":{
     "x":{"field":"d","type":"temporal"},
     "y":{"field":"v","type":"quantitative","axis":{"title":null,"values":[-40,-20,0,20,40],"labelExpr":"replace(format(datum.value, ','), '\u2212', '-')","labelOverlap":false,"ticks":true,"grid":true,"gridColor":"#868686","gridOpacity":{"condition":{"test":"datum.value === 0","value":1},"value":0}}},
     "color":{"datum":"能繁母猪存栏量环比（%）"}}},
    {"data":{"name":"c9b"},"transform":[{"filter":"datum.g == 2"}],"mark":{"type":"line","strokeWidth":2,"strokeDash":[9,7]},"encoding":{
     "x":{"field":"d","type":"temporal"},
     "y":{"field":"v","type":"quantitative","axis":{"title":null,"values":[-40,-20,0,20,40],"labelExpr":"replace(format(datum.value, ','), '\u2212', '-')","labelOverlap":false,"ticks":true,"grid":true,"gridColor":"#868686","gridOpacity":{"condition":{"test":"datum.value === 0","value":1},"value":0}}},
     "color":{"datum":"能繁母猪存栏量环比（%）"}}}
   ]},

  {"width":1,"height":57,"data":{"values":[]},"mark":"point"},
  {"width":1,"height":1,"data":{"values":[]},"mark":"point"},
  {"width":1,"height":1,"data":{"values":[]},"mark":"point"},
  {"width":1,"height":1,"data":{"values":[]},"mark":"point"},
  {"width":1,"height":1,"data":{"values":[]},"mark":"point"},
  {"width":1,"height":1,"data":{"values":[]},"mark":"point"},

  {"width":1,"height":2,"data":{"values":[]},"mark":"point"},
  {"width":38,"height":2,"data":{"values":[]},"mark":"point","view":{"fill":"#c8161e"},"title":{"text":"资料来源：Wind，东海证券研究所","orient":"bottom","offset":2,"dx":1,"fontSize":11,"font":"Liberation Sans, Noto Sans CJK SC"}},
  {"width":266,"height":2,"data":{"values":[]},"mark":"point","view":{"fill":"#c8161e"}},
  {"width":1,"height":1,"data":{"values":[]},"mark":"point"},
  {"width":40,"height":2,"data":{"values":[]},"mark":"point","view":{"fill":"#c8161e"},"title":{"text":"资料来源：Wind，东海证券研究所","orient":"bottom","offset":2,"dx":1,"fontSize":11,"font":"Liberation Sans, Noto Sans CJK SC"}},
  {"width":263,"height":2,"data":{"values":[]},"mark":"point","view":{"fill":"#c8161e"}},

  {"width":1,"height":21,"data":{"values":[]},"mark":"point"},
  {"width":1,"height":1,"data":{"values":[]},"mark":"point"},
  {"width":1,"height":1,"data":{"values":[]},"mark":"point"},
  {"width":1,"height":1,"data":{"values":[]},"mark":"point"},
  {"width":1,"height":1,"data":{"values":[]},"mark":"point"},
  {"width":1,"height":1,"data":{"values":[]},"mark":"point"}
 ]},

{"columns": 2, "spacing": 0, "bounds": "flush", "align": "each",
 "concat": [
  {"width":189,"height":125,"data":{"values":[]},"mark":"point"},
  {"width":497,"height":59,"data":{"values":[]},"mark":"point","title":{"text":["\u200b\u3000\u3000禽养殖方面，11\u2002月\u20025\u2002日白条鸡价格\u200213.4\u2002元/公斤，周环比持平。鸡苗价格\u20021.3\u2002元/羽，","周环比上涨\u200252.94%。主产区毛鸡价格\u20027.39\u2002元/公斤，周环比上涨\u20022.21%。11 月 5 日中速","鸡价格 7.32 元/斤，周环比上涨 0.69%。"],"orient":"bottom","offset":0,"fontSize":12.5,"lineHeight":19.5,"font":"Liberation Sans, Noto Sans CJK SC"}}
 ]},

{"columns": 6, "spacing": 0, "bounds": "flush", "align": "each", "resolve": {"scale": {"color": "independent"}, "legend": {"color": "independent"}},
 "concat": [
  {"width":51,"height":21,"data":{"values":[]},"mark":"point"},
  {"width":38,"height":1,"data":{"values":[]},"mark":"point"},
  {"width":266,"height":1,"data":{"values":[]},"mark":"point"},
  {"width":15,"height":1,"data":{"values":[]},"mark":"point"},
  {"width":37,"height":1,"data":{"values":[]},"mark":"point"},
  {"width":266,"height":1,"data":{"values":[]},"mark":"point"},

  {"width":1,"height":2,"data":{"values":[]},"mark":"point"},
  {"width":38,"height":2,"data":{"values":[]},"mark":"point","view":{"fill":"#c8161e"},"title":{"text":"图 10 白条鸡价格","orient":"top","offset":3,"dx":1}},
  {"width":266,"height":2,"data":{"values":[]},"mark":"point","view":{"fill":"#c8161e"}},
  {"width":1,"height":1,"data":{"values":[]},"mark":"point"},
  {"width":37,"height":2,"data":{"values":[]},"mark":"point","view":{"fill":"#c8161e"},"title":{"text":"图 11 鸡苗价格","orient":"top","offset":3,"dx":1}},
  {"width":266,"height":2,"data":{"values":[]},"mark":"point","view":{"fill":"#c8161e"}},

  {"width":1,"height":14,"data":{"values":[]},"mark":"point"},
  {"width":1,"height":1,"data":{"values":[]},"mark":"point"},
  {"width":1,"height":1,"data":{"values":[]},"mark":"point"},
  {"width":1,"height":1,"data":{"values":[]},"mark":"point"},
  {"width":1,"height":1,"data":{"values":[]},"mark":"point"},
  {"width":1,"height":1,"data":{"values":[]},"mark":"point"},

  {"width":1,"height":106,"data":{"values":[]},"mark":"point"},
  {"width":1,"height":1,"data":{"values":[]},"mark":"point"},
  {"width":248,"height":105,"data":{"name":"c10"},"mark":{"type":"line","strokeWidth":2},"encoding":{
    "x":{"field":"d","type":"temporal","scale":{"domain":[{"year":2016,"month":1,"date":1},{"year":2021,"month":11,"date":4}]},"axis":{"title":null,"format":"%y-%m","labelAngle":-90,"labelPadding":2,"values":[{"year":2016,"month":1,"date":1},{"year":2016,"month":5,"date":1},{"year":2016,"month":9,"date":1},{"year":2017,"month":1,"date":1},{"year":2017,"month":5,"date":1},{"year":2017,"month":9,"date":1},{"year":2018,"month":1,"date":1},{"year":2018,"month":5,"date":1},{"year":2018,"month":9,"date":1},{"year":2019,"month":1,"date":1},{"year":2019,"month":5,"date":1},{"year":2019,"month":9,"date":1},{"year":2020,"month":1,"date":1},{"year":2020,"month":5,"date":1},{"year":2020,"month":9,"date":1},{"year":2021,"month":1,"date":1},{"year":2021,"month":5,"date":1},{"year":2021,"month":9,"date":1}]}},
    "y":{"field":"v","type":"quantitative","scale":{"domain":[9,19]},"axis":{"title":null,"values":[9,10,11,12,13,14,15,16,17,18,19],"labelFontSize":11.5,"labelPadding":5}},
    "color":{"datum":"白条鸡价格（元/公斤）","scale":{"range":["#5B9BD5"]},"legend":{"title":null,"legendX":48,"legendY":143.5,"direction":"vertical"}}}},
  {"width":1,"height":1,"data":{"values":[]},"mark":"point"},
  {"width":1,"height":1,"data":{"values":[]},"mark":"point"},
  {"width":246,"height":106,"data":{"name":"c11"},"mark":{"type":"line","strokeWidth":2},"encoding":{
    "x":{"field":"d","type":"temporal","scale":{"domain":[{"year":2016,"month":1,"date":1},{"year":2021,"month":11,"date":1}]},"axis":{"title":null,"format":"%y-%m","labelAngle":-90,"labelPadding":2,"values":[{"year":2016,"month":1,"date":1},{"year":2016,"month":5,"date":1},{"year":2016,"month":9,"date":1},{"year":2017,"month":1,"date":1},{"year":2017,"month":5,"date":1},{"year":2017,"month":9,"date":1},{"year":2018,"month":1,"date":1},{"year":2018,"month":5,"date":1},{"year":2018,"month":9,"date":1},{"year":2019,"month":1,"date":1},{"year":2019,"month":5,"date":1},{"year":2019,"month":9,"date":1},{"year":2020,"month":1,"date":1},{"year":2020,"month":5,"date":1},{"year":2020,"month":9,"date":1},{"year":2021,"month":1,"date":1},{"year":2021,"month":5,"date":1},{"year":2021,"month":9,"date":1}]}},
    "y":{"field":"v","type":"quantitative","scale":{"domain":[0,14]},"axis":{"title":null,"values":[0,2,4,6,8,10,12,14]}},
    "color":{"datum":"肉鸡苗价格（元/羽）","scale":{"range":["#4F81BD"]},"legend":{"title":null,"legendX":51,"legendY":143.5,"direction":"vertical"}}}},

  {"width":1,"height":67,"data":{"values":[]},"mark":"point"},
  {"width":1,"height":1,"data":{"values":[]},"mark":"point"},
  {"width":1,"height":1,"data":{"values":[]},"mark":"point"},
  {"width":1,"height":1,"data":{"values":[]},"mark":"point"},
  {"width":1,"height":1,"data":{"values":[]},"mark":"point"},
  {"width":1,"height":1,"data":{"values":[]},"mark":"point"},

  {"width":1,"height":2,"data":{"values":[]},"mark":"point"},
  {"width":38,"height":2,"data":{"values":[]},"mark":"point","view":{"fill":"#c8161e"},"title":{"text":"资料来源：博亚和讯，东海证券研究所","orient":"bottom","offset":2,"dx":1,"fontSize":11,"font":"Liberation Sans, Noto Sans CJK SC"}},
  {"width":266,"height":2,"data":{"values":[]},"mark":"point","view":{"fill":"#c8161e"}},
  {"width":1,"height":1,"data":{"values":[]},"mark":"point"},
  {"width":37,"height":2,"data":{"values":[]},"mark":"point","view":{"fill":"#c8161e"},"title":{"text":"资料来源：Wind，东海证券研究所","orient":"bottom","offset":2,"dx":1,"fontSize":11,"font":"Liberation Sans, Noto Sans CJK SC"}},
  {"width":266,"height":2,"data":{"values":[]},"mark":"point","view":{"fill":"#c8161e"}},

  {"width":1,"height":23,"data":{"values":[]},"mark":"point"},
  {"width":1,"height":1,"data":{"values":[]},"mark":"point"},
  {"width":1,"height":1,"data":{"values":[]},"mark":"point"},
  {"width":1,"height":1,"data":{"values":[]},"mark":"point"},
  {"width":1,"height":1,"data":{"values":[]},"mark":"point"},
  {"width":1,"height":1,"data":{"values":[]},"mark":"point"}
 ]},

{"columns": 5, "spacing": 0, "bounds": "flush", "align": "each",
 "concat": [
  {"width":36,"height":99,"data":{"values":[]},"mark":"point"},
  {"width":326,"height":74,"data":{"values":[]},"mark":"point","title":{"text":"HTTP://WWW.LONGONE.COM.CN","orient":"bottom","offset":0,"font":"Liberation Sans","fontSize":8.5}},
  {"width":26,"height":71,"data":{"values":[]},"mark":"point","title":{"text":"5","orient":"bottom","anchor":"middle","offset":0,"font":"Liberation Serif","fontSize":15,"fontWeight":"bold"}},
  {"width":208,"height":1,"data":{"values":[]},"mark":"point"},
  {"width":100,"height":74,"data":{"values":[]},"mark":"point","title":{"text":"市场有风险，投资需谨慎","orient":"bottom","offset":0,"fontSize":8.5}}
 ]}
],
"config": {
 "view": {"stroke": null},
 "font": "Noto Sans CJK SC",
 "axis": {"labelFont": "Liberation Sans", "labelFontSize": 10.5, "labelColor": "#000000", "domainColor": "#868686", "tickColor": "#868686", "tickSize": 4, "grid": false, "labelPadding": 7, "labelOverlap": false, "labelFlush": false},
 "legend": {"orient": "none", "symbolType": "stroke", "symbolSize": 625, "symbolStrokeWidth": 2.5, "labelFont": "Noto Sans CJK SC", "labelFontSize": 10.5, "labelColor": "#000000", "labelOffset": 3, "padding": 0, "labelLimit": 300},
 "title": {"font": "Noto Sans CJK SC", "fontWeight": "normal", "color": "#000000", "anchor": "start", "frame": "group", "fontSize": 12}
}
}
